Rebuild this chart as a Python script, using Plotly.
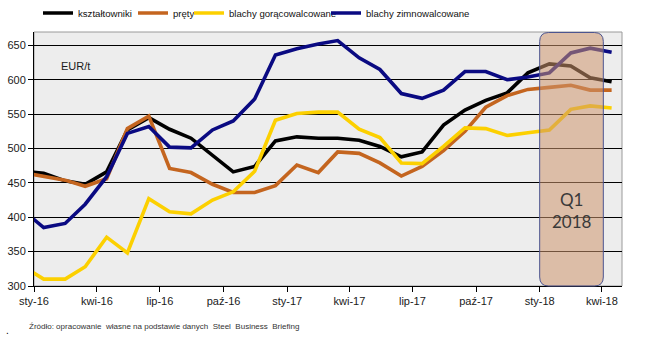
import plotly.graph_objects as go
import pandas as pd

# ---- data (monthly, mid-month; first point Dec-2015 is clipped by the axis) ----
months = ["2015-12-15",
          "2016-01-15", "2016-02-15", "2016-03-15", "2016-04-15", "2016-05-15", "2016-06-15",
          "2016-07-15", "2016-08-15", "2016-09-15", "2016-10-15", "2016-11-15", "2016-12-15",
          "2017-01-15", "2017-02-15", "2017-03-15", "2017-04-15", "2017-05-15", "2017-06-15",
          "2017-07-15", "2017-08-15", "2017-09-15", "2017-10-15", "2017-11-15", "2017-12-15",
          "2018-01-15", "2018-02-15", "2018-03-15", "2018-04-15"]

ksztaltowniki = [467, 464, 453, 448, 466, 527, 545, 528, 515, 490, 466, 474, 511,
                 517, 515, 515, 512, 503, 488, 495, 534, 556, 570, 581, 610,
                 623, 620, 603, 597]
prety = [465, 460, 454, 445, 456, 529, 547, 471, 465, 448, 436, 436, 446,
         476, 465, 495, 493, 479, 460, 474, 497, 525, 560, 577, 586,
         589, 592, 585, 585]
goracowalcowane = [329, 310, 310, 328, 371, 348, 427, 408, 405, 425, 437, 467, 541,
                   551, 553, 553, 528, 516, 479, 478, 503, 530, 529, 519, 523,
                   527, 557, 562, 559]
zimnowalcowane = [411, 385, 391, 419, 459, 522, 532, 502, 501, 527, 540, 572, 636,
                  645, 652, 657, 632, 615, 580, 573, 585, 612, 612, 600, 604,
                  610, 639, 646, 640]

tick_vals = ["2016-01-01", "2016-04-01", "2016-07-01", "2016-10-01", "2017-01-01",
             "2017-04-01", "2017-07-01", "2017-10-01", "2018-01-01", "2018-04-01"]
tick_text = ["sty-16", "kwi-16", "lip-16", "paź-16", "sty-17",
             "kwi-17", "lip-17", "paź-17", "sty-18", "kwi-18"]

series = [
    ("kształtowniki", ksztaltowniki, "#000000"),
    ("pręty", prety, "#C4651F"),
    ("blachy gorącowalcowane", goracowalcowane, "#FCD000"),
    ("blachy zimnowalcowane", zimnowalcowane, "#0A0A82"),
]
legend_ids = ["legend", "legend2", "legend3", "legend4"]
legend_px = [38, 133, 189, 326]   # left pixel of each legend entry

x_range = ["2016-01-01", "2018-04-30"]
box_range = ["2018-01-01", "2018-04-03"]

NARROW = "Liberation Sans Narrow, Arial Narrow, Liberation Sans, Arial, sans-serif"
W, H = 650, 338
ML, MR, MT, MB = 34, 28, 32, 52

fig = go.Figure()
for (name, vals, col), lid in zip(series, legend_ids):
    fig.add_trace(go.Scatter(x=months, y=vals, name=name, mode="lines",
                             line=dict(color=col, width=3.6), legend=lid))

# helper: date -> paper x fraction
t0 = pd.Timestamp(x_range[0]).value
t1 = pd.Timestamp(x_range[1]).value
def xp(d):
    return (pd.Timestamp(d).value - t0) / (t1 - t0)

pw, ph = W - ML - MR, H - MT - MB
bx0, bx1 = xp(box_range[0]), xp(box_range[1])
by0, by1 = 0.0, 0.998
rx, ry = 9 / pw, 9 / ph
path = (f"M {bx0+rx},{by0} L {bx1-rx},{by0} Q {bx1},{by0} {bx1},{by0+ry} "
        f"L {bx1},{by1-ry} Q {bx1},{by1} {bx1-rx},{by1} "
        f"L {bx0+rx},{by1} Q {bx0},{by1} {bx0},{by1-ry} "
        f"L {bx0},{by0+ry} Q {bx0},{by0} {bx0+rx},{by0} Z")

legend_common = dict(orientation="h", xref="container", yref="container",
                     y=1 - 13 / H, xanchor="left", yanchor="middle",
                     font=dict(family=NARROW, size=9.6, color="#111"),
                     bgcolor="rgba(0,0,0,0)", borderwidth=0)
legends = {lid: dict(legend_common, x=px / W) for lid, px in zip(legend_ids, legend_px)}

fig.update_layout(
    width=W, height=H,
    margin=dict(l=ML, r=MR, t=MT, b=MB, autoexpand=False),
    paper_bgcolor="white",
    plot_bgcolor="#EDEDED",
    font=dict(family=NARROW, size=11, color="#1a1a1a"),
    showlegend=True,
    **legends,
    xaxis=dict(type="date", range=x_range, tickvals=tick_vals, ticktext=tick_text,
               showgrid=False, showline=True, linecolor="black", linewidth=1,
               ticks="outside", ticklen=5, tickcolor="black",
               tickfont=dict(family=NARROW, size=11, color="#1a1a1a")),
    yaxis=dict(range=[300, 669.5], tickvals=[300, 350, 400, 450, 500, 550, 600, 650],
               showgrid=True, gridcolor="black", gridwidth=1, zeroline=False,
               showline=True, linecolor="black", linewidth=1,
               ticks="outside", ticklen=5, tickcolor="black",
               tickfont=dict(family=NARROW, size=11, color="#1a1a1a")),
    shapes=[
        dict(type="rect", xref="paper", yref="paper", x0=0, x1=1, y0=0, y1=1,
             line=dict(color="#9a9a9a", width=1), fillcolor="rgba(0,0,0,0)", layer="below"),
        dict(type="path", xref="paper", yref="paper", path=path,
             fillcolor="rgba(205,150,110,0.55)",
             line=dict(color="#4c5590", width=1), layer="above"),
    ],
    annotations=[
        dict(text="Q1<br>2018", xref="paper", yref="paper", x=(bx0 + bx1) / 2,
             y=(H - MB - 210) / ph, xanchor="center", yanchor="middle",
             showarrow=False, font=dict(family="Lato, Open Sans, sans-serif", size=17, color="#3a3a3a")),
        dict(text="EUR/t", xref="paper", yref="paper", x=(59 - ML) / pw, y=(H - MB - 66) / ph,
             xanchor="left", yanchor="middle",
             showarrow=False, font=dict(family=NARROW, size=11, color="#1a1a1a")),
        dict(text="Źródło: opracowanie  własne na podstawie danych  Steel  Business  Briefing",
             xref="paper", yref="paper", x=(27 - ML) / pw, y=(H - MB - 326) / ph,
             xanchor="left", yanchor="middle", showarrow=False,
             font=dict(family=NARROW, size=8, color="#333")),
        dict(text=".", xref="paper", yref="paper", x=(4 - ML) / pw, y=(H - MB - 330) / ph,
             xanchor="left", yanchor="middle", showarrow=False,
             font=dict(family="Arial, sans-serif", size=10, color="#000")),
    ],
)

fig.write_html("out.html")
